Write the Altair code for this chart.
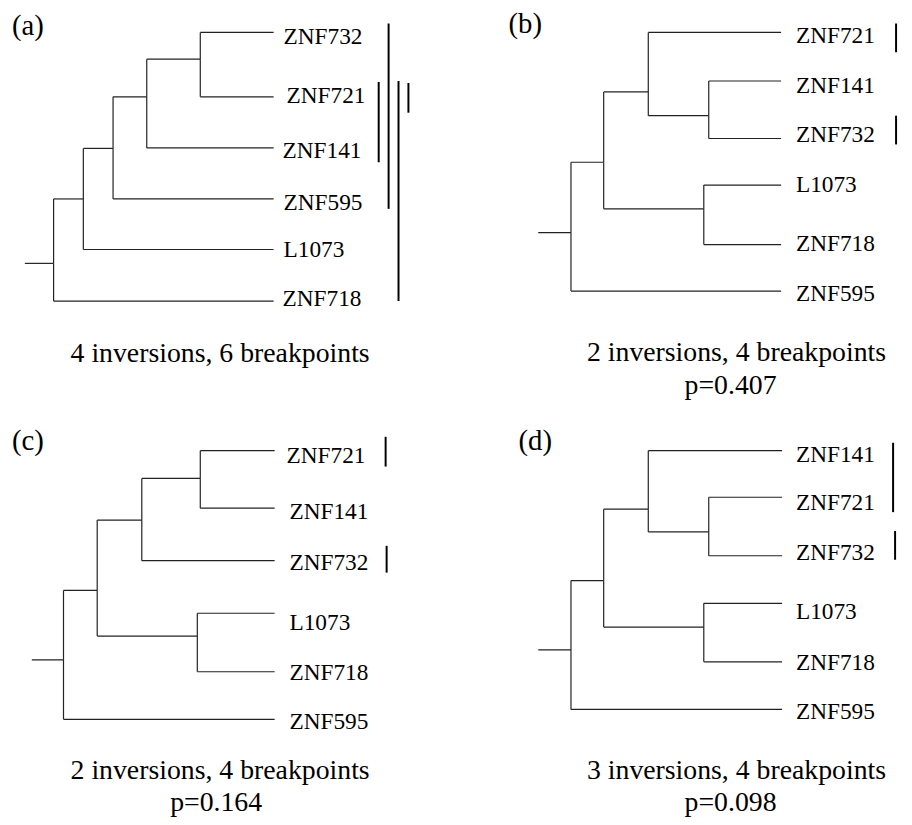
import altair as alt
import pandas as pd

# ---------------- layout of the 2x2 panel grid ----------------
COL_W = 448
ROW_H = 392
TOTAL_W = 904
TOTAL_H = 817

# ---------------- panel (a) ----------------
A_LEAVES = ["ZNF732", "ZNF721", "ZNF141", "ZNF595", "L1073", "ZNF718"]
A_LEAF_Y = [21, 86, 137.5, 189, 240, 292]
A_LEAF_PARENT = ["n5", "n5", "n4", "n3", "n2", "root"]
A_NODES = ["root", "n2", "n3", "n4", "n5"]
A_NODE_X = [46, 76, 106, 140, 194]
A_NODE_Y = [254, 189, 138, 86, 48]
A_NODE_PARENT = ["", "root", "n2", "n3", "n4"]
A_LEAF_END = 268
A_STUB_X = 17
A_LABEL_X = [278, 281, 277, 278, 278, 277]
A_LABEL_BASE = [33, 92, 148, 200, 248, 297]
A_BAR_X = [374, 384, 394, 404]
A_BAR_Y1 = [71, 12, 70, 72]
A_BAR_Y2 = [152, 199, 292, 102]
A_TAG = "(a)"
A_TAG_POS = [4, 24]
A_CAPTION = ["4 inversions, 6 breakpoints"]
A_CAPTION_X = [214]
A_CAPTION_BASE = [354]

# ---------------- panel (b) ----------------
B_LEAVES = ["ZNF721", "ZNF141", "ZNF732", "L1073", "ZNF718", "ZNF595"]
B_LEAF_Y = [21, 70, 128, 175, 235, 282]
B_LEAF_PARENT = ["n3", "n4", "n4", "n5", "n5", "root"]
B_NODES = ["root", "n2", "n3", "n4", "n5"]
B_NODE_X = [120, 153, 198, 259, 254]
B_NODE_Y = [223, 152, 81, 105, 199]
B_NODE_PARENT = ["", "root", "n2", "n3", "n2"]
B_LEAF_END = 332
B_STUB_X = 87
B_LABEL_X = [347, 347, 347, 347, 347, 347]
B_LABEL_BASE = [32, 82, 132, 182, 242, 292]
B_BAR_X = [448, 448]
B_BAR_Y1 = [12, 105]
B_BAR_Y2 = [41, 134]
B_TAG = "(b)"
B_TAG_POS = [57, 22]
B_CAPTION = ["2 inversions, 4 breakpoints", "p=0.407"]
B_CAPTION_X = [287, 281]
B_CAPTION_BASE = [353, 386]

# ---------------- panel (c) ----------------
C_LEAVES = ["ZNF721", "ZNF141", "ZNF732", "L1073", "ZNF718", "ZNF595"]
C_LEAF_Y = [51, 109, 162, 215, 274, 322]
C_LEAF_PARENT = ["n4", "n4", "n3", "n5", "n5", "root"]
C_NODES = ["root", "n2", "n3", "n4", "n5"]
C_NODE_X = [56, 90, 135, 194, 191]
C_NODE_Y = [262, 192, 121, 79, 238]
C_NODE_PARENT = ["", "root", "n2", "n3", "n2"]
C_LEAF_END = 269
C_STUB_X = 24
C_LABEL_X = [281, 284, 284, 284, 284, 284]
C_LABEL_BASE = [63, 120, 171, 232, 282, 332]
C_BAR_X = [381, 382]
C_BAR_Y1 = [37, 147]
C_BAR_Y2 = [67, 174]
C_TAG = "(c)"
C_TAG_POS = [4, 50]
C_CAPTION = ["2 inversions, 4 breakpoints", "p=0.164"]
C_CAPTION_X = [214, 210]
C_CAPTION_BASE = [382, 415]

# ---------------- panel (d) ----------------
D_LEAVES = ["ZNF141", "ZNF721", "ZNF732", "L1073", "ZNF718", "ZNF595"]
D_LEAF_Y = [51, 98, 157, 205, 264, 312]
D_LEAF_PARENT = ["n3", "n4", "n4", "n5", "n5", "root"]
D_NODES = ["root", "n2", "n3", "n4", "n5"]
D_NODE_X = [120, 153, 198, 259, 254]
D_NODE_Y = [252, 182, 110, 133, 229]
D_NODE_PARENT = ["", "root", "n2", "n3", "n2"]
D_LEAF_END = 333
D_STUB_X = 87
D_LABEL_X = [347, 347, 347, 347, 347, 347]
D_LABEL_BASE = [62, 111, 161, 221, 272, 322]
D_BAR_X = [445, 447]
D_BAR_Y1 = [43, 132]
D_BAR_Y2 = [113, 161]
D_TAG = "(d)"
D_TAG_POS = [67, 50]
D_CAPTION = ["3 inversions, 4 breakpoints", "p=0.098"]
D_CAPTION_X = [287, 281]
D_CAPTION_BASE = [382, 415]

PANELS = [
    (0, 0, A_LEAVES, A_LEAF_Y, A_LEAF_PARENT, A_NODES, A_NODE_X, A_NODE_Y, A_NODE_PARENT,
     A_LEAF_END, A_STUB_X, A_LABEL_X, A_LABEL_BASE, A_BAR_X, A_BAR_Y1, A_BAR_Y2,
     A_TAG, A_TAG_POS, A_CAPTION, A_CAPTION_X, A_CAPTION_BASE),
    (1, 0, B_LEAVES, B_LEAF_Y, B_LEAF_PARENT, B_NODES, B_NODE_X, B_NODE_Y, B_NODE_PARENT,
     B_LEAF_END, B_STUB_X, B_LABEL_X, B_LABEL_BASE, B_BAR_X, B_BAR_Y1, B_BAR_Y2,
     B_TAG, B_TAG_POS, B_CAPTION, B_CAPTION_X, B_CAPTION_BASE),
    (0, 1, C_LEAVES, C_LEAF_Y, C_LEAF_PARENT, C_NODES, C_NODE_X, C_NODE_Y, C_NODE_PARENT,
     C_LEAF_END, C_STUB_X, C_LABEL_X, C_LABEL_BASE, C_BAR_X, C_BAR_Y1, C_BAR_Y2,
     C_TAG, C_TAG_POS, C_CAPTION, C_CAPTION_X, C_CAPTION_BASE),
    (1, 1, D_LEAVES, D_LEAF_Y, D_LEAF_PARENT, D_NODES, D_NODE_X, D_NODE_Y, D_NODE_PARENT,
     D_LEAF_END, D_STUB_X, D_LABEL_X, D_LABEL_BASE, D_BAR_X, D_BAR_Y1, D_BAR_Y2,
     D_TAG, D_TAG_POS, D_CAPTION, D_CAPTION_X, D_CAPTION_BASE),
]

tree_rows, bar_rows, label_rows, tag_rows, cap_rows = [], [], [], [], []
for (col, row, leaves, leaf_y, leaf_parent, nodes, node_x, node_y, node_parent,
     leaf_end, stub_x, label_x, label_base, bar_x, bar_y1, bar_y2,
     tag, tag_pos, caption, caption_x, caption_base) in PANELS:
    ox, oy = col * COL_W, row * ROW_H
    pos = {n: (x, y) for n, x, y in zip(nodes, node_x, node_y)}
    children = list(zip(leaves, [leaf_end] * len(leaves), leaf_y, leaf_parent)) + \
        list(zip(nodes, node_x, node_y, node_parent))
    for name, cx, cy, par in children:
        if par == "":
            # root stub
            tree_rows.append(dict(x=stub_x + ox, x2=cx + ox, y=cy + oy, y2=cy + oy))
            continue
        px, py = pos[par]
        tree_rows.append(dict(x=px + ox, x2=cx + ox, y=cy + oy, y2=cy + oy))
        tree_rows.append(dict(x=px + ox, x2=px + ox, y=py + oy, y2=cy + oy))
    for bx, b1, b2 in zip(bar_x, bar_y1, bar_y2):
        bar_rows.append(dict(x=bx + ox, x2=bx + ox, y=b1 + oy, y2=b2 + oy))
    for name, lx, lb in zip(leaves, label_x, label_base):
        label_rows.append(dict(x=lx + ox, y=lb + oy, label=name))
    tag_rows.append(dict(x=tag_pos[0] + ox, y=tag_pos[1] + oy, label=tag))
    for t, cx, cb in zip(caption, caption_x, caption_base):
        cap_rows.append(dict(x=cx + ox, y=cb + oy, label=t))

tree_df = pd.DataFrame(tree_rows)
bar_df = pd.DataFrame(bar_rows)
label_df = pd.DataFrame(label_rows)
tag_df = pd.DataFrame(tag_rows)
cap_df = pd.DataFrame(cap_rows)

xs = alt.Scale(domain=[0, TOTAL_W], nice=False, zero=False)
ys = alt.Scale(domain=[TOTAL_H, 0], nice=False, zero=False)
FONT = "'Liberation Serif', 'Times New Roman', Times, serif"

tree = alt.Chart(tree_df).mark_rule(color="#222222", strokeWidth=1.2).encode(
    x=alt.X("x:Q", scale=xs, axis=None),
    x2="x2:Q",
    y=alt.Y("y:Q", scale=ys, axis=None),
    y2="y2:Q",
)

bars = alt.Chart(bar_df).mark_rule(color="black", strokeWidth=2).encode(
    x=alt.X("x:Q", scale=xs, axis=None),
    x2="x2:Q",
    y=alt.Y("y:Q", scale=ys, axis=None),
    y2="y2:Q",
)

labels = alt.Chart(label_df).mark_text(
    align="left", baseline="alphabetic", font=FONT, fontSize=23.5, color="black"
).encode(
    x=alt.X("x:Q", scale=xs, axis=None),
    y=alt.Y("y:Q", scale=ys, axis=None),
    text="label:N",
)

tags = alt.Chart(tag_df).mark_text(
    align="left", baseline="alphabetic", font=FONT, fontSize=29, color="black"
).encode(
    x=alt.X("x:Q", scale=xs, axis=None),
    y=alt.Y("y:Q", scale=ys, axis=None),
    text="label:N",
)

caps = alt.Chart(cap_df).mark_text(
    align="center", baseline="alphabetic", font=FONT, fontSize=28, color="black"
).encode(
    x=alt.X("x:Q", scale=xs, axis=None),
    y=alt.Y("y:Q", scale=ys, axis=None),
    text="label:N",
)

chart = alt.layer(tree, bars, labels, tags, caps).properties(
    width=TOTAL_W, height=TOTAL_H, padding=0, autosize="none", background="white"
).configure_view(stroke=None)

chart.save("out.html", embed_options={"renderer": "svg", "actions": False})
